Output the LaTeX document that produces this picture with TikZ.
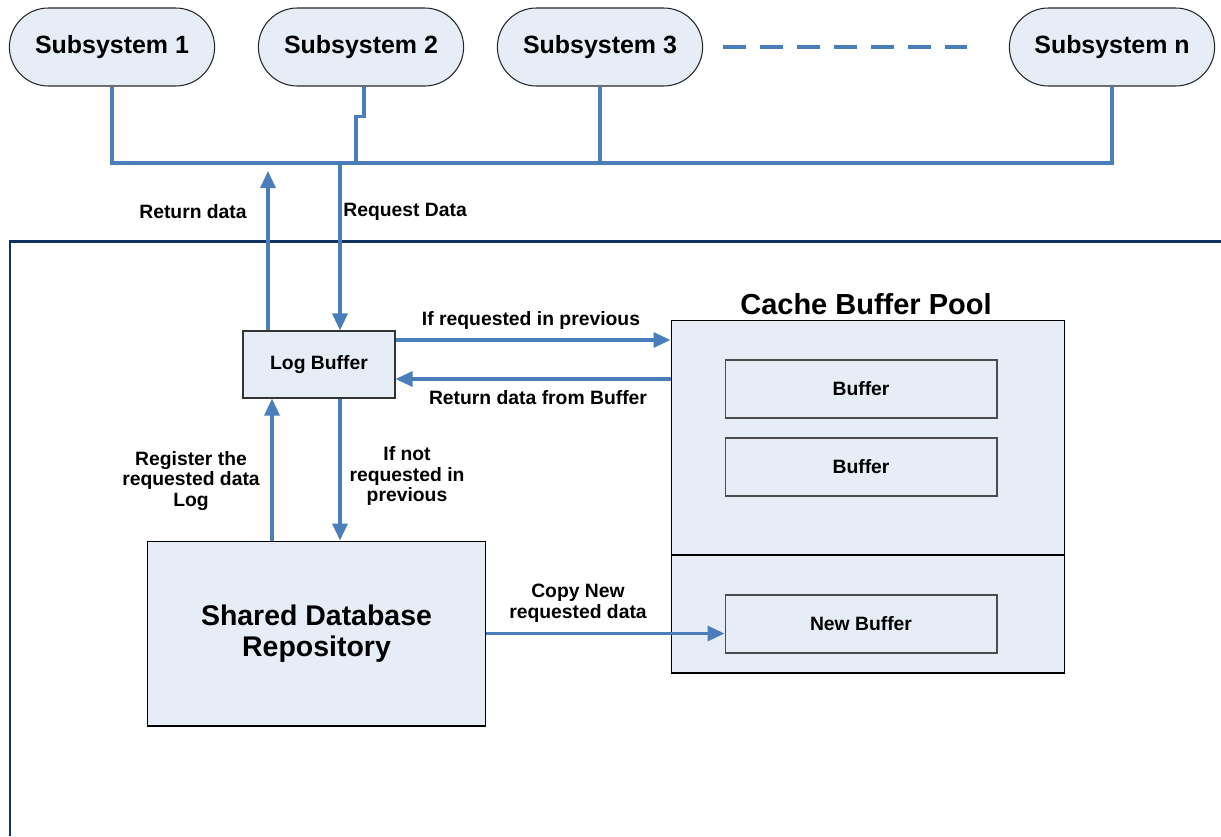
\documentclass[tikz,border=0pt]{standalone}
\usepackage{fontspec}
\setmainfont{Liberation Sans}
\usetikzlibrary{arrows.meta,shapes.misc}

\definecolor{boxFill}{HTML}{E7EDF7}
\definecolor{lineBlue}{HTML}{4A7EBB}
\definecolor{frameNavy}{HTML}{10335F}

\begin{document}
\begin{tikzpicture}[
    x=0.02cm, y=-0.02cm,
    sub/.style={rounded rectangle, draw=black!85, fill=boxFill, line width=0.6pt,
        minimum width=4.34cm, minimum height=1.56cm,
        font=\fontsize{14.2}{16}\selectfont\bfseries},
    box/.style={draw=black, fill=boxFill, line width=0.6pt, align=center},
    buf/.style={draw=black!70, fill=boxFill, line width=0.6pt,
        minimum width=5.44cm, minimum height=1.16cm,
        font=\fontsize{11}{13}\selectfont\bfseries},
    lbl/.style={font=\fontsize{11}{11.7}\selectfont\bfseries, align=center, inner sep=0pt},
    bus/.style={lineBlue, line width=1.8pt},
    arr/.style={lineBlue, line width=1.8pt, -{Triangle[length=0.34cm, width=0.3cm]}},
    frame/.style={frameNavy, line width=1.7pt},
]
\useasboundingbox (0,0) rectangle (1221,836);

% Subsystems along the top
\node[sub] (sub1) at (112,47) {Subsystem 1};
\node[sub] (sub2) at (361,47) {Subsystem 2};
\node[sub] (sub3) at (600,47) {Subsystem 3};
\node[sub] (subn) at (1112,47) {Subsystem n};

% Dashes for the subsystems left out
\draw[bus, dash pattern=on 0.46cm off 0.28cm]
    ([xshift=0.4cm]sub3.east) -- ([xshift=-0.84cm]subn.west);

% Shared bus
\coordinate (busR) at (subn.south |- 0,163);
\draw[bus] (sub1.south) |- (busR) -- (subn.south);
\draw[bus] (sub3.south) -- (sub3.south |- busR);
\draw[bus] ([xshift=0.06cm]sub2.south) -- ++(0,30) -- ++(-8,0) -- ++(0,47);
\coordinate (busret) at (268,163);
\coordinate (busreq) at (340,163);

% Server side frame
\draw[frame] (10,836) -- (10,241) -- (1221,241);

% Main boxes
\node[box, draw=black!80, minimum width=3.04cm, minimum height=1.34cm,
    font=\fontsize{11}{13}\selectfont\bfseries] (logbuf) at (319,364.5) {Log Buffer};
\node[box, minimum width=6.78cm, minimum height=3.7cm,
    font=\fontsize{16.2}{17.6}\selectfont\bfseries] (shared) at (316.5,633.5)
    {Shared Database\\Repository};

% Cache buffer pool
\node[box, minimum width=7.88cm, minimum height=7.06cm] (pool) at (868,496.5) {};
\node[font=\fontsize{16.5}{18}\selectfont\bfseries] (pooltitle) at (866,304)
    {Cache Buffer Pool};
\draw[black, line width=1.3pt] (pool.west |- 0,555) -- (pool.east |- 0,555);
\node[buf] (buf1) at (861,389) {Buffer};
\node[buf] (buf2) at (861,467) {Buffer};
\node[buf] (newbuf) at (861,624) {New Buffer};

% Request / return with the subsystems
\draw[arr] (busret |- logbuf.north) -- ([yshift=-0.16cm]busret);
\draw[arr] (busreq) -- (busreq |- logbuf.north);
\node[lbl] (retlbl) at (193,212) {Return data};
\node[lbl, anchor=west] (reqlbl) at (343,212) {Request Data};

% Log buffer <-> cache pool
\draw[arr] ([yshift=0.49cm]logbuf.east) -- ([yshift=0.49cm]logbuf.east -| pool.west);
\draw[arr] ([yshift=-0.29cm]logbuf.east -| pool.west) -- ([yshift=-0.29cm]logbuf.east);
\node[lbl] (hitlbl) at (531,320) {If requested in previous};
\node[lbl] (backlbl) at (538,398) {Return data from Buffer};

% Log buffer <-> repository
\draw[arr] (272,0 |- shared.north) -- (272,0 |- logbuf.south);
\draw[arr] (busreq |- logbuf.south) -- (busreq |- shared.north);
\node[lbl] (reglbl) at (191,481) {Register the\\requested data\\Log};
\node[lbl] (misslbl) at (407,476) {If not\\requested in\\previous};

% Repository -> new buffer
\draw[arr] (shared.east) -- (shared.east -| newbuf.west);
\node[lbl] (copylbl) at (578,603) {Copy New\\requested data};

\end{tikzpicture}
\end{document}
